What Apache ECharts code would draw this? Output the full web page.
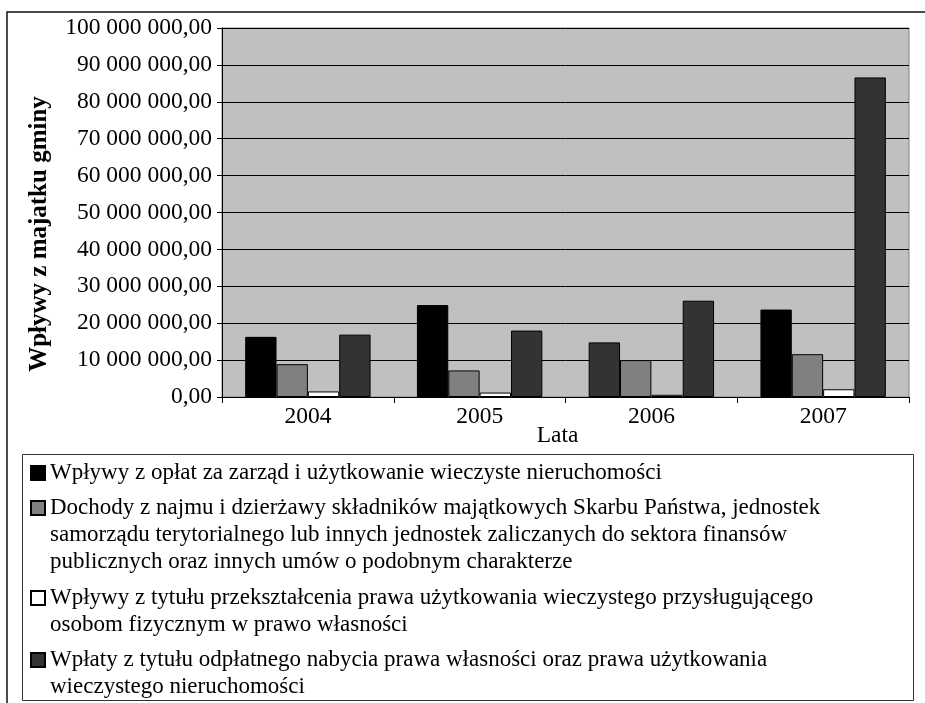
<!DOCTYPE html>
<html>
<head>
<meta charset="utf-8">
<script src="https://cdn.jsdelivr.net/npm/echarts@6/dist/echarts.min.js"></script>
<style>
  html, body { margin: 0; padding: 0; background: #ffffff; }
  #chart { width: 925px; height: 703px; }
</style>
</head>
<body>
<div id="chart"></div>
<script>
// Years on the category axis
const years = ['2004', '2005', '2006', '2007'];

// Income from municipal property (PLN)
const oplatyZarzad = [16300000, 24900000, 14800000, 23700000];
const dochodyNajem = [8900000, 7200000, 10000000, 11600000];
const przeksztalcenie = [1500000, 1200000, 600000, 2100000];
const nabycieWlasnosci = [16900000, 18000000, 26100000, 86600000];

// Y axis ticks
const yMin = 0;
const yMax = 100000000;
const yStep = 10000000;

const seriesNames = [
  'Wpływy z opłat za zarząd i użytkowanie wieczyste nieruchomości',
  'Dochody z najmu i dzierżawy składników majątkowych Skarbu Państwa, jednostek\nsamorządu terytorialnego lub innych jednostek zaliczanych do sektora finansów\npublicznych oraz innych umów o podobnym charakterze',
  'Wpływy z tytułu przekształcenia prawa użytkowania wieczystego przysługującego\nosobom fizycznym w prawo własności',
  'Wpłaty z tytułu odpłatnego nabycia prawa własności oraz prawa użytkowania\nwieczystego nieruchomości'
];

const FONT = "'Liberation Serif', 'Times New Roman', serif";
const colors = ['#000000', '#808080', '#ffffff', '#333333'];
const seriesValues = [oplatyZarzad, dochodyNajem, przeksztalcenie, nabycieWlasnosci];

function formatPL(v) {
  const s = Math.round(v).toString().replace(/\B(?=(\d{3})+(?!\d))/g, ' ');
  return s + ',00';
}

const series = seriesValues.map((vals, i) => ({
  name: seriesNames[i],
  type: 'bar',
  barGap: '0%',
  barCategoryGap: '27%',
  itemStyle: { color: colors[i], borderColor: '#000000', borderWidth: 1 },
  emphasis: { disabled: true },
  // the 2006 bar of the first series is printed in the dark shade
  data: vals.map((v, j) => (i === 0 && j === 2)
    ? { value: v, itemStyle: { color: '#333333' } }
    : v)
}));

// One legend block per series; the swatch sits level with the first text line
const LH = 27;
const SW = 14;
const legendFirstLine = [472, 507, 597, 659];
const legends = seriesNames.map((name, i) => {
  const n = name.split('\n').length;
  const h = n * LH;
  const a = (LH - SW) / 2;
  // square swatch at the top of a box as tall as the wrapped text
  const icon = 'path://M0,0L0,0M0,' + h + 'L0,' + h +
    'M0,' + a + 'L' + SW + ',' + a + 'L' + SW + ',' + (a + SW) + 'L0,' + (a + SW) + 'Z';
  return {
    data: [name],
    orient: 'vertical',
    left: 30,
    top: legendFirstLine[i] - LH / 2,
    padding: 0,
    itemWidth: SW,
    itemHeight: h,
    icon: icon,
    selectedMode: false,
    textStyle: { fontFamily: FONT, fontSize: 23, color: '#000000', lineHeight: LH }
  };
});

const chart = echarts.init(document.getElementById('chart'));
chart.setOption({
  backgroundColor: '#ffffff',
  animation: false,
  textStyle: { fontFamily: FONT },
  grid: {
    left: 222, right: 16, top: 28, bottom: 306,
    show: true, backgroundColor: '#c0c0c0', borderColor: '#808080', borderWidth: 1
  },
  legend: legends,
  graphic: [
    {
      type: 'rect', silent: true,
      shape: { x: 7, y: 12, width: 930, height: 700 },
      style: { fill: 'none', stroke: '#111111', lineWidth: 1.5 }
    },
    {
      type: 'rect', silent: true,
      shape: { x: 22.5, y: 454.5, width: 891, height: 246 },
      style: { fill: 'none', stroke: '#333333', lineWidth: 1 }
    },
    {
      type: 'text', silent: true,
      x: 40, y: 234, rotation: Math.PI / 2,
      style: {
        text: 'Wpływy z majatku gminy', fontFamily: FONT, fontSize: 25,
        fontWeight: 'bold', fill: '#000000', align: 'center', verticalAlign: 'middle'
      }
    }
  ],
  xAxis: {
    type: 'category',
    data: years,
    name: 'Lata',
    nameLocation: 'middle',
    nameGap: 27,
    nameMoveOverlap: false,
    nameTextStyle: { fontFamily: FONT, fontSize: 23.5, color: '#000000', padding: [0, 16, 0, 0] },
    axisLine: { lineStyle: { color: '#000000', width: 1 } },
    axisTick: { show: true, length: 6, lineStyle: { color: '#000000' } },
    axisLabel: { fontFamily: FONT, fontSize: 23.5, color: '#000000', margin: 8 },
    splitLine: { show: false }
  },
  yAxis: {
    type: 'value',
    min: yMin, max: yMax, interval: yStep,
    axisLine: { show: true, lineStyle: { color: '#000000', width: 1 } },
    axisTick: { show: true, length: 5, lineStyle: { color: '#000000' } },
    axisLabel: { fontFamily: FONT, fontSize: 23.5, color: '#000000', margin: 10, formatter: formatPL },
    splitLine: { show: true, lineStyle: { color: '#000000', width: 1 } }
  },
  series: series
});
</script>
</body>
</html>
